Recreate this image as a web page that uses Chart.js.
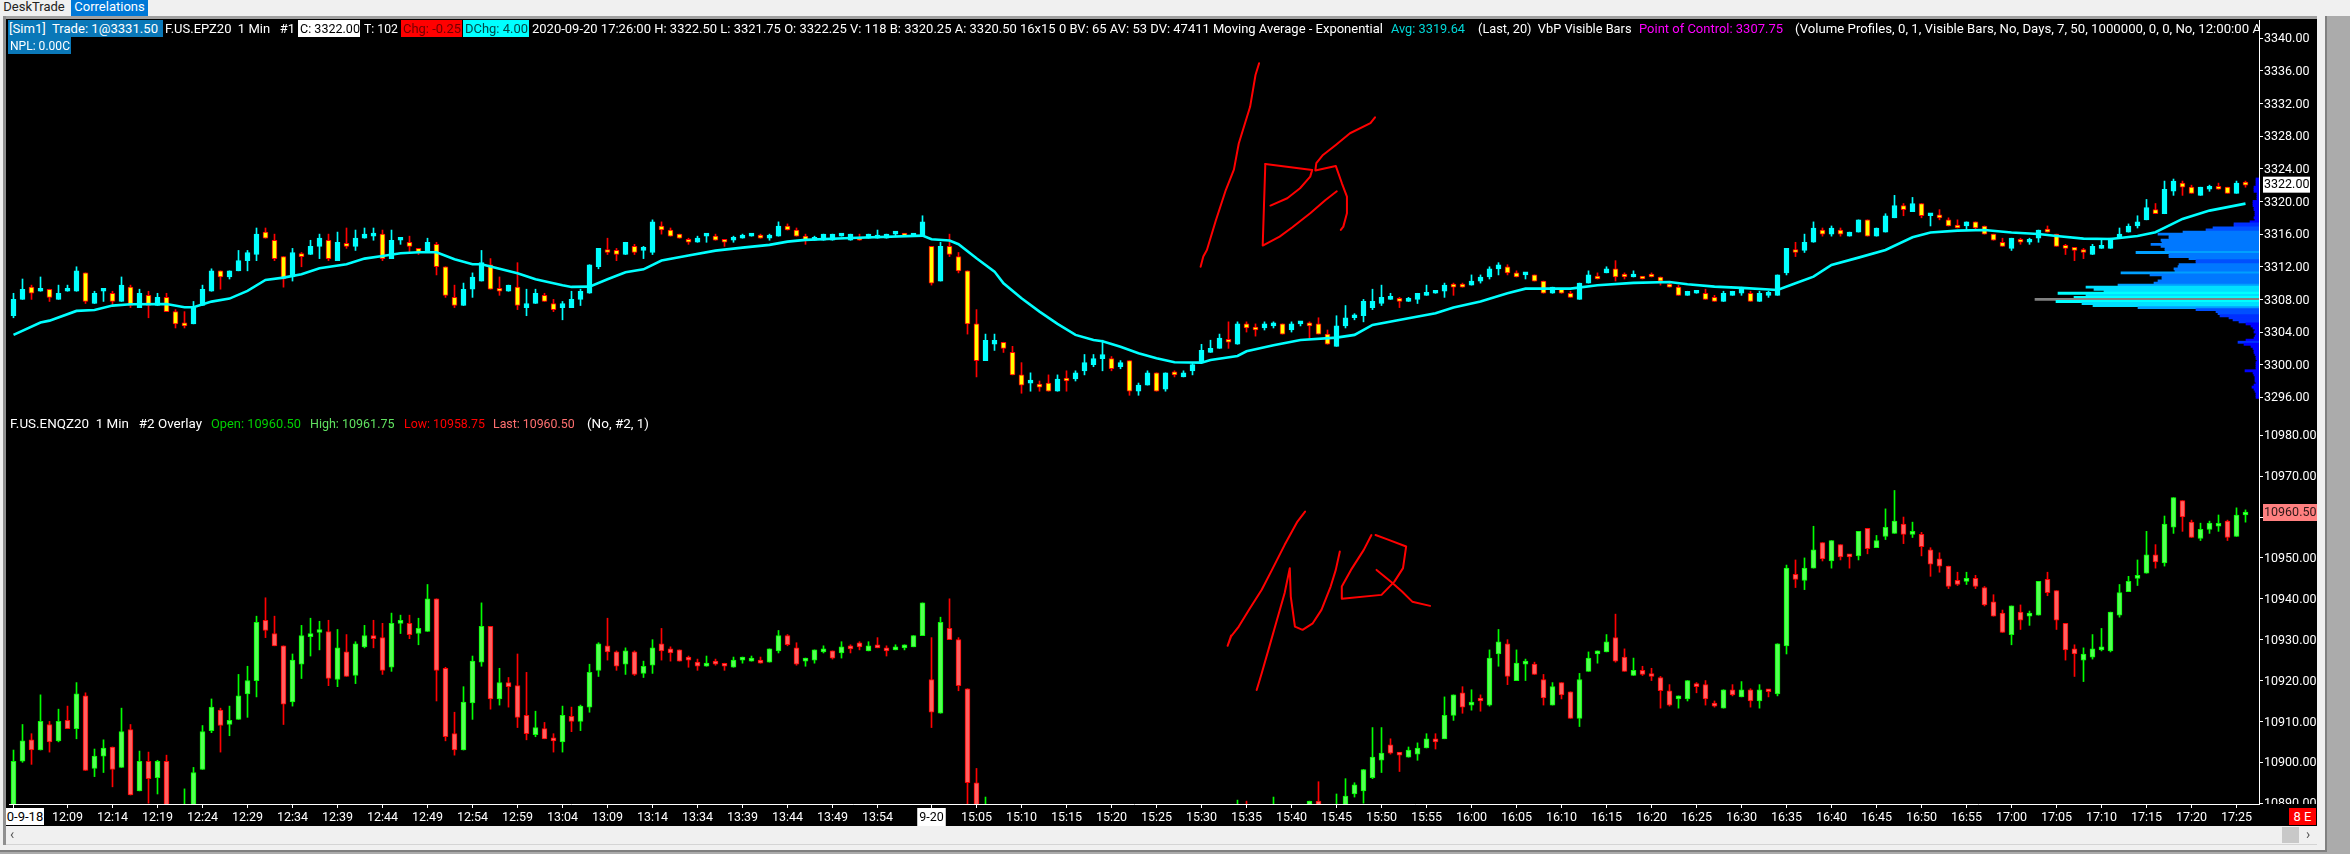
<!DOCTYPE html>
<html><head><meta charset="utf-8">
<script src="https://cdn.jsdelivr.net/npm/chart.js@4"></script>
<style>
html,body{margin:0;padding:0;background:#ababab;width:2350px;height:854px;overflow:hidden;font-family:Roboto,sans-serif}
div{position:absolute}
#black{left:6px;top:19px;width:2311px;height:807px;background:#000}
#strip{left:0;top:0;width:2350px;height:16px;background:#f0f0f0}
#stripLine{left:0;top:16px;width:2325px;height:3px;background:#a0a0a0}
#leftA{left:0;top:16px;width:3px;height:834px;background:#f0f0f0}
#leftB{left:3px;top:16px;width:3px;height:834px;background:#909090}
#rightA{left:2317px;top:16px;width:8px;height:834px;background:#f0f0f0}
#rightB{left:2325px;top:16px;width:2px;height:836px;background:#808080}
#scroll{left:6px;top:826px;width:2311px;height:18px;background:#f0f0f0}
#scrollEdge{left:6px;top:844px;width:2311px;height:1px;background:#d4d4d4}
#fill{left:3px;top:845px;width:2322px;height:5px;background:#f0f0f0}
#botLine{left:0;top:850px;width:2327px;height:2px;background:#808080}
#thumb{left:2282px;top:827px;width:17px;height:16px;background:#c8c8c8}
canvas{position:absolute;left:0;top:0}
.t{position:absolute;white-space:pre;font-size:13px;line-height:17px;color:#fff;transform-origin:0 50%}
.tab{position:absolute;top:0;height:16px;font-size:13px;line-height:13px;white-space:pre;text-align:center}
#hdr{left:6px;top:19px;width:2253px;height:420px;overflow:hidden}
.box{position:absolute}
#cover{left:2260px;top:804px;width:57px;height:22px;background:#000}
#e8{left:2289px;top:808px;width:27px;height:17px;background:#ff0000;color:#fff;font-size:13px;line-height:17px;text-align:center}
#d18{left:6px;top:808px;width:38px;height:17px;background:#fff;color:#000;font-size:13px;line-height:17px;text-align:center;overflow:hidden;white-space:pre}
.arr{color:#555;font-size:14px;line-height:16px;white-space:pre}
</style></head><body>
<div id="black"></div><div id="strip"></div><div id="stripLine"></div><div id="leftA"></div><div id="leftB"></div>
<div id="rightA"></div><div id="rightB"></div><div id="scroll"></div><div id="scrollEdge"></div><div id="fill"></div><div id="botLine"></div><div id="thumb"></div>
<div class="tab" style="left:0;width:68px;color:#222">DeskTrade</div>
<div class="tab" style="left:71px;width:77px;background:#0078d7;color:#fff">Correlations</div>
<canvas id="c" width="2350" height="854"></canvas>
<div id="hdr"></div>
<div id="cover"></div><div id="e8">8 E</div><div id="d18">0-9-18</div>
<div class="arr" style="left:10px;top:826px">‹</div><div class="arr" style="left:2306px;top:826px">›</div>
<script>
// ---- axis ----
const barCount = 250;
const tickBars = [0,6,11,16,21,26,31,36,41,46,51,56,61,66,71,76,81,86,91,96,102,107,112,117,122,127,132,137,142,147,152,157,162,167,172,177,182,187,192,197,202,207,212,217,222,227,232,237,242,247];
const tickLabels = ['','12:09','12:14','12:19','12:24','12:29','12:34','12:39','12:44','12:49','12:54','12:59','13:04','13:09','13:14','13:34','13:39','13:44','13:49','13:54','9-20','15:05','15:10','15:15','15:20','15:25','15:30','15:35','15:40','15:45','15:50','15:55','16:00','16:05','16:10','16:15','16:20','16:25','16:30','16:35','16:40','16:45','16:50','16:55','17:00','17:05','17:10','17:15','17:20','17:25'];
const lastTop = 3322.00, lastBottom = 10960.50;

// ---- F.US.EPZ20 [open, high, low, close], one row per 1-minute bar ----
const topOHLC = [
[3306,3308.75,3305.75,3308],[3308,3310.5,3308,3309.25],[3309.5,3309.75,3308,3308.75],[3309,3310.75,3309,3309.25],[3309.25,3309.25,3307.75,3308.25],
[3308,3309.75,3308,3308.75],[3309,3309.75,3309,3309.25],[3309,3312,3309,3311.5],[3311.25,3311.25,3307.5,3307.75],[3307.5,3309,3307.5,3308.75],
[3309,3309.25,3307.75,3309],[3308.75,3309,3307.25,3307.75],[3307.75,3310.75,3307.75,3309.75],[3309.5,3309.75,3307,3307.25],[3307,3309.25,3307,3308.75],
[3308.5,3309,3305.75,3307.25],[3307.25,3308.75,3307.25,3308.25],[3308.25,3308.75,3306.5,3306.5],[3306.5,3306.75,3304.5,3305],[3305,3306.5,3304.5,3304.75],
[3305,3307.75,3305,3307],[3307.25,3309.75,3307.25,3309.25],[3309,3311.75,3309,3311.5],[3311.5,3311.5,3309.25,3310.75],[3310.75,3311.5,3310.5,3311.5],
[3311.5,3314,3311.5,3312.75],[3312.75,3314,3311.5,3313.75],[3313.5,3316.75,3312.75,3316],[3316.25,3316.75,3315.5,3315.5],[3315.25,3316,3312.75,3313],
[3313.25,3313.25,3309.5,3310.5],[3310.75,3314.25,3310.25,3313.75],[3313.5,3313.75,3312,3313.25],[3313.5,3315.25,3313.5,3314.5],[3314.5,3316,3313,3315.5],
[3315.25,3316,3312.75,3313],[3312.75,3316.25,3312.75,3315],[3314.75,3316.75,3314.25,3314.5],[3314.5,3316.5,3314,3315.5],[3315.5,3316.75,3315.5,3316],
[3315.75,3316.75,3315.25,3316],[3316,3316.5,3312.75,3313],[3313,3316.5,3313,3315.25],[3315.25,3315.5,3314.75,3315.25],[3315,3315.75,3313.75,3314.5],
[3314.25,3314.25,3313.5,3313.75],[3313.75,3315.5,3313.75,3315],[3314.75,3315,3311,3312],[3312,3312,3308.25,3308.5],[3308.25,3309.75,3307,3307.25],
[3307.25,3310,3307.25,3309.25],[3309.25,3311.25,3308.25,3310.75],[3310.25,3314,3310.25,3312.5],[3312.25,3313,3309.25,3309.25],[3309.25,3310.75,3308.5,3309],
[3309,3309.75,3309,3309.75],[3309.5,3312.5,3306.75,3307.25],[3307,3309.25,3306,3307.5],[3307.5,3309.25,3307.5,3308.75],[3308.5,3308.75,3307.75,3307.75],
[3307.5,3308,3306.5,3306.75],[3307,3307.75,3305.5,3307.5],[3307,3309,3307,3308],[3308,3309.25,3307.25,3309],[3308.75,3312.25,3308.75,3312.25],
[3312,3314.25,3311.75,3314.25],[3314,3315.5,3313.5,3313.75],[3314,3314.25,3312.75,3313.5],[3313.5,3315,3313.5,3315],[3314.5,3314.75,3313.5,3313.75],
[3314,3314.5,3313,3314],[3313.75,3317.75,3313.5,3317.5],[3317,3317.5,3316,3316.5],[3316.5,3316.75,3315.75,3315.75],[3316,3316,3315.5,3315.5],
[3315.25,3315.5,3314.75,3315],[3315,3315.75,3315,3315.5],[3315.75,3316,3315,3316],[3315.75,3316,3315.25,3315.25],[3315.25,3315.25,3314.5,3315],
[3315.25,3315.75,3315,3315.5],[3315.5,3316,3315.5,3315.75],[3315.75,3316,3315.75,3316],[3315.75,3316,3315.5,3315.5],[3315.5,3316,3315.25,3315.75],
[3315.75,3317.5,3315.75,3317],[3317,3317.25,3316.5,3316.5],[3316.5,3316.75,3315.75,3315.75],[3315.75,3316,3314.75,3315.25],[3315.25,3315.75,3315.25,3315.5],
[3315.25,3316,3315.25,3316],[3315.25,3316,3315.25,3316],[3315.75,3316,3315.75,3316],[3315.25,3316,3315.25,3316],[3315.5,3316,3315.25,3315.25],
[3315.5,3316,3315.5,3316],[3315.5,3316.5,3315.5,3315.75],[3315.5,3316,3315.5,3316],[3316,3316.25,3315.75,3316],[3316,3316,3315.75,3315.75],
[3315.75,3316,3315.75,3316],[3315.75,3318.25,3315.75,3317.5],[3314.5,3314.5,3309.75,3310],[3310.25,3315,3310.25,3314.5],[3314.5,3316,3313.25,3313.5],
[3313.25,3313.75,3311.25,3311.5],[3311.5,3311.5,3303.75,3305],[3305,3306.75,3298.5,3300.5],[3300.5,3303.75,3300.5,3303],[3302.5,3303.75,3301.75,3303],
[3302.75,3302.75,3301.5,3302],[3301.5,3302.25,3298.75,3298.75],[3298.75,3300.25,3296.5,3297.5],[3297.75,3299,3296.75,3298],[3297.5,3298,3296.75,3297.25],
[3297.75,3298.75,3296.75,3296.75],[3296.75,3298.75,3296.75,3298.25],[3298.25,3299.25,3296.75,3298],[3298.25,3299.25,3298,3299],[3299.25,3301.25,3298.75,3300.25],
[3300,3301.25,3299.75,3300.75],[3300.75,3303,3299.25,3301.25],[3300.75,3301,3299.25,3299.5],[3299.75,3300.5,3299.5,3300.25],[3300.5,3300.5,3296.25,3296.75],
[3296.75,3297.75,3296.25,3297.5],[3297.5,3299.25,3297.5,3299],[3299,3299,3296.75,3296.75],[3297,3299,3296.75,3299],[3299,3299.25,3298.5,3298.75],
[3298.5,3299.25,3298.5,3299],[3299.25,3300.25,3298.75,3300],[3300.25,3302.5,3300.25,3301.75],[3301.5,3303,3301.5,3302],[3302,3303.75,3302,3303.25],
[3303,3305.25,3302,3302.75],[3302.5,3305.25,3302.5,3305],[3305,3305.25,3304,3304.5],[3304.5,3305,3303.5,3304.25],[3304.5,3305.25,3304.25,3305],
[3304.75,3305.25,3304.5,3305],[3305,3305,3303.75,3303.75],[3304.25,3305.25,3304,3305],[3305,3305.25,3304.75,3305.25],[3305,3305.25,3303.25,3304.75],
[3305,3305.75,3303.75,3303.75],[3303.75,3304.25,3302.5,3302.5],[3302.25,3306,3302.25,3304.75],[3304.75,3307.25,3304.5,3305.75],[3305.75,3306.25,3305.5,3306],
[3306,3308,3305.25,3307.75],[3307,3309.25,3306.75,3307.75],[3307.5,3309.75,3307.25,3308.25],[3308,3308.75,3308,3308],[3308,3308.25,3307,3307.75],
[3307.75,3308.25,3307.75,3308],[3308,3308.75,3307.5,3308.75],[3308.5,3309.75,3308.5,3308.75],[3308.75,3309,3308.75,3309],[3309,3310,3308.25,3309.75],
[3309.75,3310,3308.5,3309.5],[3309.75,3310,3309.5,3309.5],[3309.75,3311,3309.75,3310.25],[3310.25,3311,3310,3310.75],[3310.75,3312,3310.5,3311.75],
[3311.75,3312.5,3311,3312.25],[3312,3312.25,3311,3311.25],[3311.25,3311.5,3310.75,3310.75],[3311,3311.25,3310.5,3311],[3311,3311,3310.25,3310.25],
[3310.25,3310.25,3308.75,3308.75],[3308.75,3309.5,3308.75,3309.5],[3309.25,3309.25,3308.75,3308.75],[3308.75,3309,3308.25,3308.25],[3308,3310,3308,3310],
[3310,3311.5,3310,3311],[3310.75,3311.25,3310.5,3310.5],[3311.25,3312,3311.25,3311.75],[3311.75,3312.75,3310.25,3310.75],[3311,3311.25,3310.5,3310.75],
[3310.75,3311.5,3310.75,3311],[3310.75,3310.75,3310.5,3310.5],[3311,3311.25,3310.75,3310.75],[3310.75,3310.75,3309.75,3310.25],[3309.75,3310,3309.5,3309.5],
[3309.5,3309.75,3308.5,3308.5],[3308.5,3309,3308.5,3309],[3308.75,3309,3308.75,3309],[3308.75,3309.25,3308,3308],[3308.25,3308.5,3307.75,3307.75],
[3307.75,3309,3307.75,3308.75],[3308.5,3309,3308.5,3309],[3308.75,3309.5,3308.5,3309.25],[3308.75,3309,3307.75,3307.75],[3307.75,3309,3307.75,3308.75],
[3308.5,3309,3308.25,3308.75],[3308.5,3311,3308.5,3311],[3311.25,3314.25,3311,3314.25],[3314,3315,3313.25,3313.75],[3314,3316,3313.75,3315],
[3315,3317.5,3315,3316.75],[3316.5,3316.75,3315.75,3316],[3316,3317,3315.75,3316.75],[3316.5,3316.75,3315.75,3316],[3315.75,3316.25,3315.75,3316.25],
[3316.25,3317.75,3316.25,3317.75],[3317.75,3317.75,3315.75,3315.75],[3315.75,3316.75,3315.75,3316.75],[3316.25,3318.5,3316.25,3318.25],[3318,3320.75,3318,3319.5],
[3319.5,3319.75,3318.25,3319],[3318.75,3320.5,3318.75,3319.75],[3319.75,3319.75,3318,3318.25],[3318.25,3318.5,3317,3318.5],[3318.25,3319,3317.75,3318],
[3317.75,3318,3317,3317],[3317,3317.75,3316.75,3316.75],[3317,3317.5,3316.5,3317.5],[3317.5,3317.5,3316.5,3316.75],[3317,3317,3316,3316],
[3316,3316,3315.25,3315.25],[3315,3315.5,3314.5,3314.5],[3314.25,3315.5,3314,3315.5],[3315.25,3315.5,3314.75,3315],[3315,3315.5,3314.75,3315.25],
[3315.5,3316.5,3315,3316.5],[3316.5,3317,3316.25,3316.25],[3316,3316,3314.5,3314.5],[3314.5,3314.75,3313.5,3314.25],[3314.25,3314.25,3312.75,3314],
[3314,3314.25,3313,3313.75],[3313.5,3314.75,3313.5,3314.5],[3314.25,3315.25,3314.25,3314.5],[3314.25,3315.5,3314.25,3315.5],[3315.5,3316.75,3315.5,3316],
[3316.25,3317.25,3316.25,3317],[3317,3318.25,3316.75,3317.5],[3317.75,3320.25,3317.75,3319.25],[3319,3319.75,3318.5,3318.5],[3318.5,3322.5,3318.5,3321.5],
[3321.25,3322.75,3320.75,3322.5],[3322.25,3322.5,3320.75,3321.75],[3321.75,3322,3321,3321],[3320.75,3321.75,3320.75,3321.75],[3321.5,3322,3321.25,3321.75],
[3321.75,3322.25,3321.5,3321.5],[3321.75,3321.75,3321,3321],[3321,3322.5,3321,3322.25],[3322.25,3322.5,3321.75,3322]
];

// ---- F.US.ENQZ20 [open, high, low, close]; null where the bar is below the visible range ----
const bottomOHLC = [
[10889.5,10903,10889,10900.25],[10900.25,10909.25,10900,10905.25],[10905.5,10907,10899.5,10903],[10903,10916.5,10903,10910],[10909.25,10910,10902.5,10905],
[10905.25,10913,10905,10910],[10910.25,10913.75,10908.25,10908.25],[10908.25,10919.5,10905.75,10916.75],[10916.25,10917,10898,10898],[10898.5,10903.25,10896.5,10901.5],
[10901.5,10905.5,10897.5,10903.5],[10903.75,10903.75,10894,10898.25],[10898.75,10913.25,10898.75,10907.5],[10908,10909.25,10892,10892],[10893,10902.75,10893,10900.25],
[10900.25,10902.5,10890,10896],[10896.25,10900.5,10892.25,10900.25],[10900.25,10901.75,10887,10887],null,[10882,10893.5,10880,10888],
[10888,10898.75,10887,10897.5],[10898.25,10909,10898.25,10907.5],[10907.75,10915.5,10907.25,10913.5],[10912.75,10913.25,10902.5,10909],[10909.25,10913.75,10906.5,10910.25],
[10910.5,10921.5,10910.5,10916.25],[10916.75,10923.5,10911,10920],[10920,10935.75,10916,10934.25],[10934.75,10940.25,10930.5,10932.25],[10931.5,10935.75,10928.5,10928.5],
[10928.5,10928.5,10909.25,10914.25],[10914.75,10926.5,10913.75,10925],[10924,10933.5,10920.5,10931],[10930.75,10935.25,10926,10931.25],[10931.75,10934.5,10927.5,10932.5],
[10932,10934.75,10918.75,10920.5],[10920.25,10932.5,10918.5,10928],[10927,10931.25,10921,10921],[10921.25,10929.5,10919.25,10929],[10928.25,10933.5,10928,10931],
[10930.5,10934.75,10928,10930.25],[10930.5,10934,10921.5,10922.5],[10923.25,10936.5,10922.25,10934],[10934,10936,10931.5,10934.25],[10934,10936,10930.25,10931.25],
[10931.5,10935.25,10928.75,10932.75],[10932,10943.5,10932,10940],[10940,10940,10915,10922.5],[10923,10923.25,10905.25,10906.25],[10907,10912.25,10901.75,10903],
[10903,10918.5,10903,10914.75],[10914.5,10926,10910.5,10924.75],[10924.5,10939,10923.5,10933.25],[10933.25,10933.25,10913,10915.5],[10915.5,10923,10914,10919.5],
[10919.5,10920.75,10913.5,10918.5],[10918.75,10926.5,10908.5,10911],[10911.5,10922,10905.5,10907],[10906.75,10912.5,10906.25,10908.5],[10908.25,10909.75,10905.75,10905.75],
[10905.75,10907,10902.5,10905.25],[10905,10913.75,10902.5,10911.5],[10911.25,10913.5,10907.5,10910],[10910,10914,10907.75,10913.75],[10913.5,10924,10912.25,10922],
[10922.5,10929.25,10921,10929],[10928.5,10935.25,10925,10927],[10927,10927.25,10922.5,10923.5],[10924,10928,10921.5,10927.25],[10927,10927.25,10921.25,10921.5],
[10921.75,10924.75,10920.75,10923.5],[10923.75,10930,10921.75,10928],[10929,10932.75,10925,10927.25],[10927.75,10928.25,10924.75,10926.75],[10927.5,10927.5,10924.75,10924.75],
[10925.5,10926,10923.25,10925],[10924.5,10925.25,10922.5,10923.5],[10923.5,10926,10923.5,10924.25],[10924.5,10925.25,10923.75,10924],[10923.75,10924.25,10922.5,10923.5],
[10923.25,10925.75,10923.25,10925],[10925,10925.75,10924.25,10925.25],[10924.75,10926,10924.75,10925.5],[10925,10925.75,10924.25,10924.25],[10924.5,10927.75,10924.5,10927.75],
[10927.25,10932.25,10926.75,10931],[10931,10931.25,10928.5,10928.75],[10928,10929.25,10923.75,10924],[10924.75,10925.5,10923.5,10925],[10925,10927.5,10924.25,10927.5],
[10927,10928.5,10926.75,10927.5],[10927.25,10927.25,10925.25,10925.5],[10926.75,10929.5,10925.5,10928.25],[10928.5,10928.75,10926.75,10927.75],[10929.25,10929.5,10927.5,10928.25],
[10927.25,10929.5,10927.25,10928.5],[10928.5,10930.5,10928,10928],[10927.5,10928.5,10926,10927.25],[10927.5,10928.75,10927.5,10928.25],[10928,10928.75,10927.5,10928.5],
[10928.25,10931,10928.25,10931],[10931,10939,10931,10939],[10920.25,10930.5,10908.5,10912.25],[10912,10935.5,10912,10934.25],[10932.75,10940,10930,10930],
[10930,10930.5,10917.5,10918.75],[10918,10918,10888,10895],[10895,10898.5,10880,10885],[10882,10891.5,10880,10885],null,
null,null,null,null,null,null,null,null,null,null,
null,null,null,null,null,null,null,null,null,null,
null,null,null,null,null,null,[10885,10890.75,10880,10888],[10888,10890.5,10885,10886],null,null,
[10886,10891.5,10884,10889],null,null,null,[10888,10890.5,10886,10890.5],[10890.5,10895.25,10888,10889],null,[10887,10892.25,10885,10889],[10889,10896,10888,10891.75],[10892.25,10895,10891.5,10894.5],
[10893,10898.25,10890,10898.25],[10896.25,10908.5,10896,10901.25],[10900.5,10908.5,10897.5,10902.25],[10904.25,10905.75,10902,10902.25],[10902.25,10902.25,10897.75,10901.75],
[10901.25,10903.75,10901.25,10903],[10902,10904.75,10900.5,10903.5],[10903.5,10907,10903.5,10905.75],[10905.5,10907,10903.25,10905],[10905.75,10916,10905.75,10911.5],
[10911.5,10916.5,10910.25,10916.5],[10917,10918.5,10912,10913.5],[10914,10917.75,10912.75,10914.25],[10915.5,10916.5,10912.5,10915],[10914,10927.5,10913.75,10925.5],
[10926.5,10932.5,10923.5,10929.5],[10929,10930,10919,10921],[10920,10927.5,10920,10924.25],[10924,10925.25,10920,10924.25],[10924,10924.5,10921.5,10921.5],
[10920.25,10921.5,10914,10915.75],[10914,10919.5,10914,10918.5],[10919.5,10919.5,10915.5,10916.5],[10917.25,10917.25,10910.75,10910.75],[10910.75,10921.75,10908.75,10920.25],
[10922.25,10927,10922.25,10925.5],[10926.5,10927.25,10924.25,10927.25],[10927,10931.25,10927,10929.5],[10930.5,10936.25,10924.5,10924.75],[10925.75,10927.75,10922.25,10922.25],
[10921.25,10925.5,10921.25,10922.5],[10922.5,10923.5,10921.25,10921.5],[10921.25,10923,10920,10921],[10920.75,10921,10913.25,10917.5],[10917.5,10919,10913.75,10914],
[10915.5,10916.25,10913.25,10915.75],[10915.5,10920,10915,10920],[10919.25,10919.5,10917,10918.5],[10919,10920,10914,10915.5],[10914.25,10915,10913.5,10913.75],
[10913.25,10917.75,10913.25,10917.75],[10917.75,10919,10916.25,10916.5],[10916,10919.75,10916,10917.75],[10917.75,10918,10913.5,10915],[10915,10919,10913.25,10917.75],
[10917.75,10917.75,10916,10917.25],[10916.75,10929,10916.25,10929],[10928.5,10948.25,10926.5,10947.5],[10946,10949.5,10942.75,10944.75],[10944.5,10950,10942.25,10947.5],
[10947.5,10957.75,10947.5,10952],[10953.75,10953.75,10949.25,10949.75],[10949.25,10954.25,10947.5,10954.25],[10953.25,10953.25,10949.5,10950.25],[10950.5,10950.75,10947.5,10950.25],
[10950.5,10956.5,10949.5,10956.5],[10957.25,10957.25,10951,10952.25],[10952.5,10955.5,10952.5,10954.25],[10955.25,10962,10954.5,10957.5],[10956,10966.5,10956,10959],
[10958.25,10960,10953.5,10955.75],[10955.75,10958.75,10955,10956],[10955.75,10956.25,10950.5,10952.75],[10952,10952.5,10945.5,10948.5],[10949.75,10951.25,10946.5,10948],
[10948,10948,10942.5,10943],[10944.5,10946.5,10943.25,10943.5],[10944.25,10946.5,10943.5,10945],[10945,10945.75,10942.5,10943],[10942.75,10943,10938.25,10938.5],
[10939.25,10941,10935.75,10935.75],[10936.5,10937.25,10931.75,10931.75],[10931.25,10938.25,10928.75,10938.25],[10936.75,10938.5,10932.5,10934.75],[10935.75,10937,10933.5,10936.25],
[10936,10944.25,10936,10944.25],[10944.75,10946.5,10940.75,10941.5],[10942,10942,10932.5,10934.75],[10934,10934,10925,10927.5],[10927.75,10928.75,10921,10926.5],
[10925,10928,10919.75,10926.5],[10925.75,10931.25,10925.25,10927.75],[10927.5,10932.75,10927.25,10928.25],[10927.25,10936.75,10927,10936.75],[10936,10943.5,10935.5,10941.5],
[10941.75,10945.5,10941.75,10944.25],[10945,10949.5,10943.25,10945.5],[10946.25,10956.5,10946.25,10950.75],[10950.75,10953.25,10947.5,10949],[10948.75,10960.25,10948,10958.25],
[10957.5,10964.75,10956,10964.75],[10964,10964,10956.5,10960],[10958.75,10959.25,10955,10955],[10954.75,10958.5,10954.25,10957],[10957,10959,10956,10958.5],
[10957.75,10960.5,10956.5,10958.25],[10959,10959.25,10954.25,10955],[10955.25,10962.25,10955.25,10960.5],[10960.5,10961.75,10958.75,10960.5]
];

// ---- exponential moving average, read at these bars ----
const emaBars = [0,3,4,7,9,11,13,17,19,20,22,24,26,28,30,32,34,37,39,41,43,45,47,49,51,52,54,56,58,61,62,64,66,68,70,72,75,78,81,84,86,88,93,101,102,104,105,107,109,110,112,114,116,118,120,121,123,125,127,129,132,133,136,137,140,143,147,149,151,155,158,160,163,166,168,173,176,180,184,186,189,192,196,198,200,202,205,208,211,213,216,219,222,225,227,230,233,236,238,241,244,248];
const emaValues = [3303.65,3305.16,3305.4,3306.59,3306.71,3307.24,3307.4,3307.44,3307.04,3307.04,3307.73,3308.1,3309.04,3310.39,3310.67,3311.08,3311.82,3312.31,3313,3313.33,3313.65,3313.78,3313.78,3312.92,3312.31,3312.31,3311.77,3311.2,3310.47,3309.73,3309.53,3309.57,3310.47,3311.33,3311.69,3312.76,3313.37,3313.98,3314.35,3314.68,3315.08,3315.29,3315.53,3315.82,3315.37,3315.21,3314.76,3313.04,3311.41,3309.98,3308.14,3306.5,3305,3303.65,3303.03,3302.87,3302.2,3301.4,3300.79,3300.3,3300.25,3300.58,3301.07,3301.64,3302.38,3303.03,3303.32,3303.65,3304.87,3305.69,3306.3,3307,3307.73,3308.75,3309.32,3309.32,3309.73,3310.02,3310.14,3309.85,3309.57,3309.41,3309.16,3309.98,3310.79,3312.22,3313.12,3314.06,3315.61,3316.19,3316.43,3316.51,3316.19,3316.02,3315.78,3315.45,3315.41,3315.78,3316.23,3317.86,3318.88,3319.74];

// ---- volume profile ----
const volumePrices = [3322.75,3322.5,3322.25,3322,3321.75,3321.5,3321.25,3321,3320.75,3320.5,3320.25,3320,3319.75,3319.5,3319.25,3319,3318.75,3318.5,3318.25,3318,3317.75,3317.5,3317.25,3317,3316.75,3316.5,3316.25,3316,3315.75,3315.5,3315.25,3315,3314.75,3314.5,3314.25,3314,3313.75,3313.5,3313.25,3313,3312.75,3312.5,3312.25,3312,3311.75,3311.5,3311.25,3311,3310.75,3310.5,3310.25,3310,3309.75,3309.5,3309.25,3309,3308.75,3308.5,3308.25,3308,3307.75,3307.5,3307.25,3307,3306.75,3306.5,3306.25,3306,3305.75,3305.5,3305.25,3305,3304.75,3304.5,3304.25,3304,3303.75,3303.5,3303.25,3303,3302.75,3302.5,3302.25,3302,3301.75,3301.5,3301.25,3301,3300.75,3300.5,3300.25,3300,3299.75,3299.5,3299.25,3299,3298.75,3298.5,3298.25,3298,3297.75,3297.5,3297.25,3297,3296.75,3296.5,3296.25,3296];
const volumeSizes = [3,3,3,3,5,5,5,2,2,2,2,6,6,6,5,5,4,4,4,5,4,9,25,25,46,53,76,101,90,90,98,97,108,98,94,94,123,90,90,70,63,63,80,81,85,84,138,109,97,97,101,105,141,173,165,155,201,173,185,224,203,177,166,121,63,43,41,39,30,26,20,13,8,6,4,5,3,4,5,13,21,15,8,6,5,5,4,3,3,2,3,3,3,3,14,6,5,4,4,4,3,5,7,5,4,3,3,3];
const pointOfControl = 3308;

// ---- the hand-drawn red strokes, as [bar, price] ----
const strokeA = [[138.4,3336.94],[138,3335.5],[137.4,3331.6],[136.14,3327.1],[135.6,3323.9],[134.7,3321.4],[133.6,3317.7],[132.6,3314.06],[132.2,3313.25],[131.9,3312]];
const strokeB = [[151.28,3330.32],[150.77,3329.6],[148.5,3328.36],[146.92,3326.93],[145.5,3325.7],[144.76,3324.7],[144.65,3323.8],[146.92,3324.36],[147.6,3322.23],[148.16,3320.6],[148.16,3318.56],[147.76,3316.92],[147.48,3316.51]];
const strokeC = [[139.09,3324.6],[144.3,3323.87],[144.08,3323.05],[142.95,3321.62],[141.53,3320.4],[139.66,3319.5]];
const strokeD = [[139.09,3324.6],[138.8,3314.6],[140.68,3315.7],[142.1,3316.84],[144.08,3318.56],[145.78,3320.19],[147.03,3321.25]];
const strokeE = [[143.51,10961.34],[142.66,10958.9],[141.24,10953.2],[139.83,10947.07],[138.69,10942.2],[137.28,10937.3],[136.14,10933.2],[135.29,10930.8],[134.9,10928.5],[135.29,10931]];
const strokeF = [[138.13,10917.7],[138.69,10921.8],[139.54,10928.3],[140.39,10934.85],[141.24,10941.4],[141.81,10947.5],[141.92,10940.55],[142.38,10933.2],[143.23,10932.4],[144.36,10934],[145.33,10937.3],[146.35,10943],[146.92,10947.07],[147.37,10951.56]];
const strokeG = [[150.88,10955.6],[150.03,10951.96],[148.61,10947.07],[147.59,10943],[147.59,10940],[152,10940.96],[153.43,10944.2],[154.39,10947.5],[154.74,10952.8],[152.58,10954.6],[151.34,10955.6]];
const strokeH = [[151.45,10947.07],[153.15,10943.98],[154.28,10941.8],[155.42,10939.3],[157.4,10938.27]];

// ---- header texts: text, left, target width, colour, box ----
const headerRows = [
 {top:1, items:[
  ['[Sim1]  Trade: 1@3331.50',9,149,'#fff',[8,163,'#0a78b8']],
  ['F.US.EPZ20  1 Min   #1',164.5,130,'#fff'],
  ['C: 3322.00',299.5,60,'#000',[298,360,'#fff']],
  ['T: 102',363.5,34,'#fff'],
  ['Chg: -0.25',403,58,'#700000',[401,462,'#ff0000']],
  ['DChg: 4.00',465,63,'#004848',[463,529,'#00ffff']],
  ['2020-09-20 17:26:00 H: 3322.50 L: 3321.75 O: 3322.25 V: 118 B: 3320.25 A: 3320.50 16x15 0 BV: 65 AV: 53 DV: 47411 Moving Average - Exponential',532,851,'#fff'],
  ['Avg: 3319.64',1391,74,'#00d8d8'],
  ['(Last, 20)  VbP Visible Bars',1477.5,153.5,'#fff'],
  ['Point of Control: 3307.75',1639,144,'#ff00ff'],
  ['(Volume Profiles, 0, 1, Visible Bars, No, Days, 7, 50, 1000000, 0, 0, No, 12:00:00 A',1795,466,'#fff']
 ]},
 {top:18, items:[['NPL: 0.00C',10,60,'#fff',[8,71,'#0a78b8']]]},
 {top:396, items:[
  ['F.US.ENQZ20  1 Min   #2 Overlay',10,192,'#fff'],
  ['Open: 10960.50',211,90,'#00d000'],
  ['High: 10961.75',310,84.5,'#60e060'],
  ['Low: 10958.75',403.6,81,'#ff0000'],
  ['Last: 10960.50',493.4,81.6,'#ff7070'],
  ['(No, #2, 1)',587,62,'#fff']
 ]}
];

// ---- build header ----
const hdr = document.getElementById('hdr');
for (const row of headerRows) for (const [txt,left,w,col,box] of row.items) {
  if (box) { const b=document.createElement('div'); b.className='box';
    b.style.cssText=`left:${box[0]-6}px;top:${row.top}px;width:${box[1]-box[0]}px;height:17px;background:${box[2]}`; hdr.appendChild(b); }
  const s=document.createElement('span'); s.className='t'; s.textContent=txt;
  s.style.left=(left-6)+'px'; s.style.top=(row.top)+'px'; s.style.color=col; hdr.appendChild(s);
  s.dataset.w=w;
}
function fitHeader(){ hdr.querySelectorAll('span').forEach(s=>{ s.style.transform=''; const a=s.getBoundingClientRect().width; s.style.transform=`scaleX(${s.dataset.w/a})`; }); }
fitHeader();

// ---- chart ----
const FONT = {family:'Roboto', size:12.5};
const sz = new Map(tickBars.map((b,i)=>[b,tickLabels[i]]));
function candleSets(rows, yAxisID, st){
  const isUp = r => r && r[3]>=r[0];
  return [
   {type:'bar',xAxisID:'x',yAxisID,grouped:false,order:6,barThickness:1,borderWidth:0,
    data:rows.map(r=>r?[r[2],r[1]]:null),
    backgroundColor:rows.map(r=>isUp(r)?st.upWick:st.dnWick)},
   {type:'bar',xAxisID:'x',yAxisID,grouped:false,order:5,barThickness:5,minBarLength:3,borderWidth:1,borderSkipped:false,
    data:rows.map(r=>r?[r[0],r[3]]:null),
    backgroundColor:rows.map(r=>isUp(r)?st.upFill:st.dnFill),
    borderColor:rows.map(r=>isUp(r)?st.upEdge:st.dnEdge)}
  ];
}
const strokeSet = (pts,yAxisID)=>({type:'line',xAxisID:'xLin',yAxisID,order:1,data:pts.map(p=>({x:p[0],y:p[1]})),
   borderColor:'#ff0000',borderWidth:2,pointRadius:0,tension:0,fill:false,borderJoinStyle:'round',borderCapStyle:'round'});
const volColor = (v,p)=> p===pointOfControl?'#808080': v>=180?'#00ffff':v>=155?'#00e0ff':v>=115?'#00a0ff':v>=65?'#0078ff':v>=40?'#0050ff':v>=20?'#0030ff':'#0000ff';
const tagPlugin = {id:'tags',afterDraw(ch){
  const g=ch.ctx; g.save(); g.font='12.5px Roboto'; g.textBaseline='middle'; g.textAlign='left';
  const a=ch.scales.yTop.getPixelForValue(lastTop)-0.5, b=ch.scales.yBot.getPixelForValue(lastBottom)-2.5;
  g.fillStyle='#fff'; g.fillRect(2263,a-8,47,16); g.fillStyle='#000'; g.fillText(lastTop.toFixed(2),2264,a+0.5);
  g.fillStyle='#ff8080'; g.fillRect(2263,b-8.5,54,17); g.fillStyle='#301818'; g.fillText(lastBottom.toFixed(2),2264,b+0.5);
  g.restore();
}};
const yCommon = {type:'linear',position:'right',stack:'panes',offset:false,beginAtZero:false,
  border:{display:true,color:'#fff',width:1},
  grid:{drawOnChartArea:false,drawTicks:true,tickLength:4,color:'#fff',offset:false},
  afterFit(s){s.width=58;}};
const yTicks = step=>({stepSize:step,includeBounds:false,autoSkip:false,maxTicksLimit:40,color:'#fff',font:FONT,padding:1,labelOffset:1,callback:v=>Number(v).toFixed(2)});

new Chart(document.getElementById('c'),{
  data:{labels:Array.from({length:barCount},(_, i)=>i),datasets:[
    ...strokeSets(),
    {type:'line',xAxisID:'xLin',yAxisID:'yTop',order:2,data:emaBars.map((b,i)=>({x:b,y:emaValues[i]})),borderColor:'#00ffff',borderWidth:2.6,pointRadius:0,tension:0,fill:false},
    {type:'bar',indexAxis:'y',xAxisID:'xVol',yAxisID:'yTop',grouped:false,order:7,barThickness:2.2,borderWidth:0,
      data:volumePrices.map((p,i)=>({x:volumeSizes[i],y:p})),
      backgroundColor:volumePrices.map((p,i)=>volColor(volumeSizes[i],p))},
    ...candleSets(topOHLC,'yTop',{upWick:'#00ffff',dnWick:'#ff0000',upFill:'#00ffff',dnFill:'#ffff00',upEdge:'#00ffff',dnEdge:'#ff0000'}),
    ...candleSets(bottomOHLC,'yBot',{upWick:'#00ff00',dnWick:'#ff0000',upFill:'#55ff55',dnFill:'#ff6060',upEdge:'#00ff00',dnEdge:'#ff0000'})
  ]},
  plugins:[tagPlugin],
  options:{
    responsive:false,animation:false,events:[],
    layout:{padding:{left:9,top:20,right:33,bottom:28}},
    plugins:{legend:{display:false},tooltip:{enabled:false},title:{display:false}},
    scales:{
      x:{type:'category',position:'bottom',offset:true,
        border:{display:true,color:'#fff',width:1},
        grid:{drawOnChartArea:false,drawTicks:true,tickLength:4,color:'#fff',offset:false},
        afterBuildTicks(s){s.ticks=s.ticks.filter(t=>sz.has(t.value));},
        afterFit(s){s.height=22;},
        ticks:{autoSkip:false,maxRotation:0,minRotation:0,font:FONT,padding:2,
          callback:v=>sz.get(v),
          color:c=>c.tick&&c.tick.value===102?'#000':'#fff',
          showLabelBackdrop:c=>!!(c.tick&&c.tick.value===102),
          backdropColor:'#fff',backdropPadding:{x:2,y:2}}},
      xLin:{type:'linear',display:false,position:'bottom',min:-0.5,max:barCount-0.5},
      xVol:{type:'linear',display:false,position:'bottom',reverse:true,min:0,max:2250,offset:false,beginAtZero:true,grid:{offset:false}},
      yTop:{...yCommon,stackWeight:385,min:3295.06,max:3342.24,ticks:yTicks(4)},
      yBot:{...yCommon,stackWeight:399,min:10889.8,max:10987.41,ticks:yTicks(10)}
    }
  }
});
function strokeSets(){
  return [strokeSet(strokeA,'yTop'),strokeSet(strokeB,'yTop'),strokeSet(strokeC,'yTop'),strokeSet(strokeD,'yTop'),
          strokeSet(strokeE,'yBot'),strokeSet(strokeF,'yBot'),strokeSet(strokeG,'yBot'),strokeSet(strokeH,'yBot')];
}
</script>
</body></html>
